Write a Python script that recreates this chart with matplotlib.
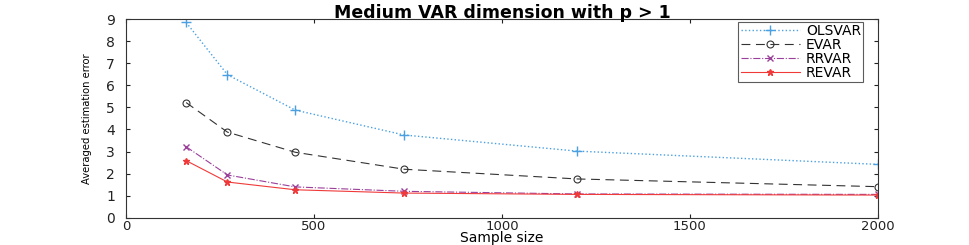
import matplotlib
matplotlib.use("Agg")
import matplotlib.pyplot as plt

# sample sizes and averaged estimation errors
sample_size = [160, 270, 450, 740, 1200, 2000]
olsvar = [8.85, 6.48, 4.88, 3.75, 3.02, 2.42]
evar = [5.22, 3.88, 2.97, 2.20, 1.76, 1.41]
rrvar = [3.22, 1.94, 1.40, 1.20, 1.08, 1.06]
revar = [2.59, 1.62, 1.27, 1.12, 1.06, 1.03]

x_ticks = [0, 500, 1000, 1500, 2000]
y_ticks = list(range(0, 10))

plt.rcParams['font.family'] = ['DejaVu Sans']

fig = plt.figure(figsize=(9.69, 2.45), dpi=100)
ax = fig.add_axes([0.130, 0.111, 0.776, 0.811])

ax.plot(sample_size, olsvar, ls=':', marker='+', color='#4aa0e0', lw=1, ms=7, label='OLSVAR')
ax.plot(sample_size, evar, ls=(0, (8, 5)), marker='o', color='#333333', lw=0.8, ms=5,
        mfc='none', mew=0.8, label='EVAR')
ax.plot(sample_size, rrvar, ls='-.', marker='x', color='#9b3f9b', lw=0.8, ms=5, label='RRVAR')
ax.plot(sample_size, revar, ls='-', marker='*', color='#f03a3a', lw=0.8, ms=5, label='REVAR')

ax.set_xlim(0, 2000)
ax.set_ylim(0, 9)
ax.set_xticks(x_ticks)
ax.set_yticks(y_ticks)
ax.tick_params(direction='in', top=True, right=True, labelsize=10, length=3,
               colors='#222222')
ax.tick_params(axis='x', pad=1.5, labelsize=9.5)
ax.tick_params(axis='y', pad=8)
for s in ax.spines.values():
    s.set_color('#333333')
    s.set_linewidth(0.8)

ax.set_title('Medium VAR dimension with p > 1', fontsize=12.5, fontweight='bold', pad=1)
ax.set_xlabel('Sample size', fontsize=10, labelpad=-1)
ax.set_ylabel('Averaged estimation error', fontsize=8, fontstretch='condensed', labelpad=10)

leg = ax.legend(loc='upper right', fontsize=10, frameon=True, fancybox=False,
                borderpad=0.15, labelspacing=0.0, handlelength=4.3, handletextpad=0.4,
                bbox_to_anchor=(863 / 969, 1 - 22 / 245), bbox_transform=fig.transFigure,
                borderaxespad=0)
leg.get_frame().set_edgecolor('#333333')
leg.get_frame().set_linewidth(0.8)

fig.savefig('out.png', dpi=100)
